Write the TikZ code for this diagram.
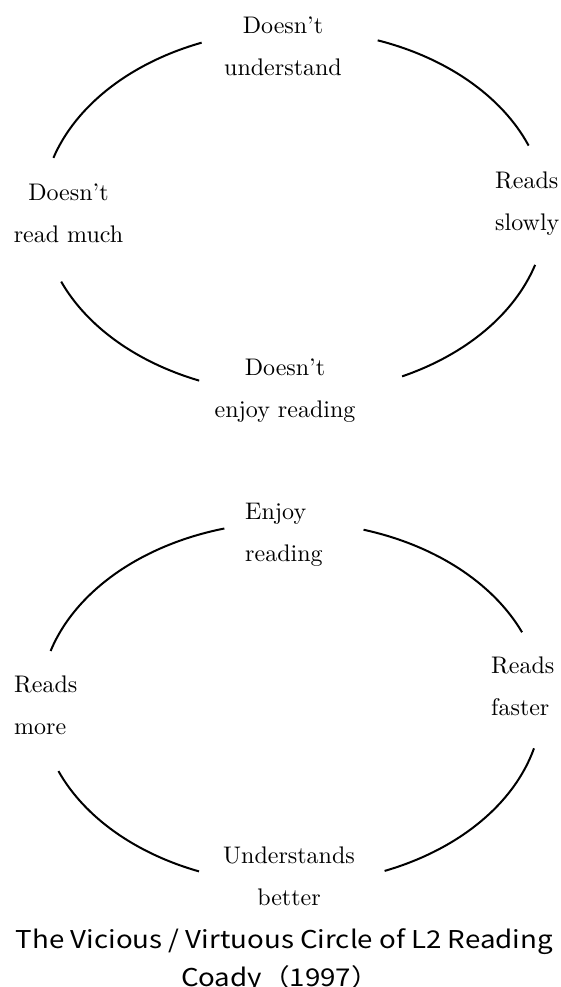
\documentclass[tikz,border=0pt]{standalone}
\usepackage{fontspec}
\setmainfont{lmroman10-regular.otf}
\newfontfamily\capfont{Noto Sans CJK JP}[FakeStretch=1.13]
\begin{document}
\begin{tikzpicture}[x=1pt,y=1pt,
  lbl/.style={inner sep=0pt, font=\fontsize{24}{42}\selectfont},
  arcline/.style={line width=2pt, line cap=butt},
  captxt/.style={inner sep=0pt, anchor=base, font=\capfont\fontsize{24.5}{37}\selectfont}]
\useasboundingbox (0,0) rectangle (561,987);
% centres of the two cycles
\coordinate (ca) at (294,775);
\coordinate (cb) at (291,284);
% vicious circle
\draw[arcline] (ca) ++(21.4:252pt and 182pt) arc[start angle=21.4, end angle=70.6, x radius=252pt, y radius=182pt];
\draw[arcline] (ca) ++(111.5:252pt and 182pt) arc[start angle=111.5, end angle=162.7, x radius=252pt, y radius=182pt];
\draw[arcline] (ca) ++(202.5:252pt and 182pt) arc[start angle=202.5, end angle=247.9, x radius=252pt, y radius=182pt];
\draw[arcline] (ca) ++(295.4:252pt and 182pt) arc[start angle=295.4, end angle=343.1, x radius=252pt, y radius=182pt];
\node[lbl, align=center, anchor=north] (a1) at (283,970.7) {Doesn't\\understand};
\node[lbl, align=left, anchor=north west] (a2) at (495,815.7) {Reads\\slowly};
\node[lbl, align=center, anchor=north] (a3) at (285,628.7) {Doesn't\\enjoy reading};
\node[lbl, align=center, anchor=north] (a4) at (68.5,803.7) {Doesn't\\read much};
% virtuous circle
\draw[arcline] (cb) ++(23.0:251pt and 181pt) arc[start angle=23.0, end angle=73.2, x radius=251pt, y radius=181pt];
\draw[arcline] (cb) ++(105.4:251pt and 181pt) arc[start angle=105.4, end angle=163.3, x radius=251pt, y radius=181pt];
\draw[arcline] (cb) ++(202.1:251pt and 181pt) arc[start angle=202.1, end angle=248.5, x radius=251pt, y radius=181pt];
\draw[arcline] (cb) ++(291.9:251pt and 181pt) arc[start angle=291.9, end angle=345.5, x radius=251pt, y radius=181pt];
\node[lbl, align=left, anchor=north west] (b1) at (245,484.4) {Enjoy\\reading};
\node[lbl, align=left, anchor=north west] (b2) at (491,330.7) {Reads\\faster};
\node[lbl, align=center, anchor=north] (b3) at (289,140.7) {Understands\\better};
\node[lbl, align=left, anchor=north west] (b4) at (14,311.7) {Reads\\more};
% caption
\node[captxt] (cap1) at (284.5,38) {The Vicious / Virtuous Circle of L2 Reading};
\node[captxt] (cap2) at (280,1) {Coady（1997）};
\end{tikzpicture}
\end{document}
